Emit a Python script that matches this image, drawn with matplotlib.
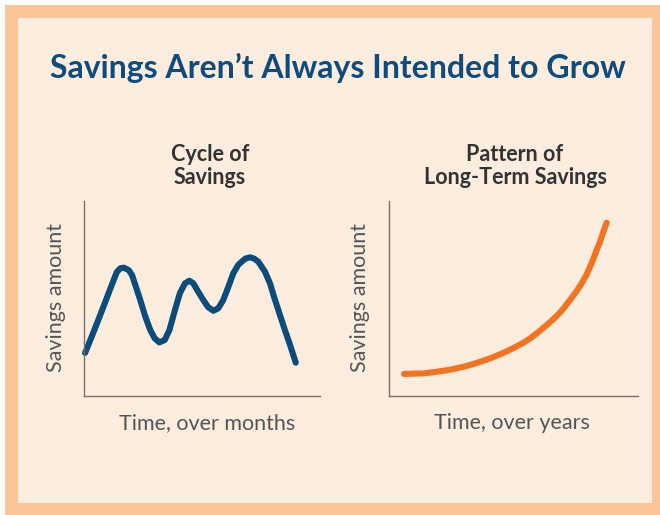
import matplotlib.pyplot as plt
from matplotlib.patches import Rectangle

# cycle of savings (x in months, y in % of axis height)
cycle_months = [0.08, 0.43, 0.79, 1.14, 1.53, 1.70, 1.87, 2.04, 2.29, 2.46, 2.63, 2.88,
                3.14, 3.39, 3.61, 3.85, 4.12, 4.36, 4.64, 4.89, 5.15, 5.37, 5.57, 5.82,
                6.08, 6.33, 6.59, 6.84, 7.09, 7.35, 7.60, 7.85, 8.03, 8.22, 8.45, 8.65,
                8.87, 9.21, 9.46, 9.72, 9.97, 10.22, 10.48, 10.77]
cycle_amount = [22.1, 30.8, 40.0, 49.2, 59.5, 63.7, 65.5, 65.8, 64.6, 62.1, 56.9, 49.2,
                40.6, 33.8, 29.6, 27.5, 28.7, 33.8, 44.1, 52.7, 57.8, 59.1, 57.8, 53.5,
                49.2, 45.5, 43.7, 45.0, 49.2, 56.0, 62.9, 67.2, 68.9, 70.5, 71.1, 70.5,
                68.9, 63.7, 57.8, 49.2, 41.5, 33.8, 26.2, 17.1]

# long-term savings (x in years)
long_years = [1.81, 3.13, 4.14, 5.14, 6.15, 7.15, 8.15, 9.16, 10.16, 11.17, 12.17, 13.17,
              14.18, 15.18, 16.19, 17.19, 18.20, 19.20, 20.20, 21.01, 21.81, 22.61, 23.22,
              23.82, 24.22, 24.62, 25.02, 25.43, 25.83, 26.23]
long_amount = [11.3, 11.5, 11.6, 12.1, 12.7, 13.3, 14.2, 15.2, 16.4, 17.8, 19.3, 21.0,
               22.9, 25.0, 27.3, 30.1, 33.5, 37.1, 41.0, 44.8, 49.2, 53.8, 57.8,
               62.4, 66.3, 70.3, 74.9, 79.1, 84.3, 88.9]

title = "Savings Aren\u2019t Always Intended to Grow"
sub_left = "Cycle of\nSavings"
sub_right = "Pattern of\nLong-Term Savings"
ylab = "Savings amount"
xlab_left = "Time, over months"
xlab_right = "Time, over years"

blue = "#0b4c7b"
orange = "#f47321"
cream = "#fdeddf"
border = "#fbc499"
dark = "#333333"
gray = "#555555"

W, H = 660, 515
fig = plt.figure(figsize=(W / 100, H / 100), dpi=100)
fig.patch.set_facecolor("white")

def fx(px):
    return px / W

def fy(py):
    return 1 - py / H

# frame
fig.patches.append(Rectangle((fx(5), fy(515)), fx(655), 510 / H, transform=fig.transFigure,
                             facecolor=border, edgecolor="none", zorder=-2))
fig.patches.append(Rectangle((fx(18), fy(503)), fx(634), 485 / H, transform=fig.transFigure,
                             facecolor=cream, edgecolor="none", zorder=-1))

fig.text(fx(338), fy(68), title, ha="center", va="center", fontsize=23,
         fontweight="bold", color="#0e4c7d", family="Lato")

def panel(left, right, xs, ys, xmax, color, sub, subx, xl, xlx, ylx):
    ax = fig.add_axes([fx(left), fy(396), fx(right - left), 195 / H])
    ax.set_facecolor("none")
    ax.set_zorder(1)
    ax.plot(xs, ys, color=color, lw=4.4, solid_capstyle="round",
            solid_joinstyle="round", clip_on=False)
    ax.set_xlim(0, xmax)
    ax.set_ylim(0, 100)
    ax.set_xticks([])
    ax.set_yticks([])
    for s in ["top", "right"]:
        ax.spines[s].set_visible(False)
    for s in ["left", "bottom"]:
        ax.spines[s].set_color("#7a7068")
        ax.spines[s].set_linewidth(1.0)
    fig.text(fx(subx), fy(166), sub, ha="center", va="center", fontsize=15.5,
             fontweight="bold", color=dark, family="Lato", linespacing=1.1)
    fig.text(fx(xlx), fy(423), xl, ha="center", va="center", fontsize=15.5,
             color=gray, family="Lato")
    fig.text(fx(ylx), fy(298), ylab, ha="center", va="center", fontsize=15.5,
             color=gray, family="Lato", rotation=90)
    return ax

panel(83.5, 320, cycle_months, cycle_amount, 12, blue, sub_left, 210, xlab_left, 207.5, 56)
panel(389, 638, long_years, long_amount, 30, orange, sub_right, 515, xlab_right, 512, 360)

fig.savefig("out.png", dpi=100, facecolor=fig.get_facecolor())
